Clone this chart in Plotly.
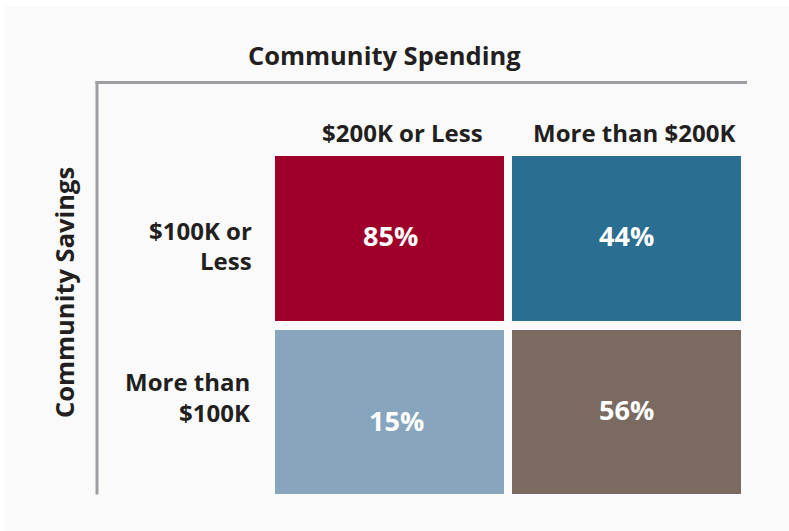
import plotly.graph_objects as go

# ---- data ----
col_labels = ["$200K or Less", "More than $200K"]
row_keys = ["$100K or Less", "More than $100K"]
row_lines = [["$100K or", "Less"], ["More than", "$100K"]]
values = [[85, 44], [15, 56]]          # rows top->bottom, cols left->right
cell_colors = [["#9e0029", "#2a6f91"], ["#87a5bd", "#7b6a61"]]
x_title = "Community Spending"
y_title = "Community Savings"

W, H = 789, 531
L, R, T, B = 271, 44, 152, 32
PW, PH = W - L - R, H - T - B

def px_x(p):
    return (p - L) / PW

def px_y(p):
    return 1 - (p - T) / PH

# discrete colorscale: cell index -> colour
flat_colors = [c for row in cell_colors for c in row]
n = len(flat_colors)
cs = []
for i, c in enumerate(flat_colors):
    cs.append([i / n, c])
    cs.append([(i + 1) / n, c])
z_idx = [[r * 2 + c for c in range(2)] for r in range(2)]

font_family = "'Open Sans', sans-serif"
dark = "#231f20"

fig = go.Figure(go.Heatmap(
    x=col_labels, y=row_keys, z=z_idx,
    zmin=-0.5, zmax=n - 0.5,
    colorscale=cs, showscale=False,
    xgap=8, ygap=9, hoverinfo="skip",
))

# value labels
xshifts = [[1, 0], [7, 0]]
yshifts = [[3, 3], [-8, 3]]
ann = []
for r in range(2):
    for c in range(2):
        ann.append(dict(x=col_labels[c], y=row_keys[r], xref="x", yref="y",
                        text=f"<b>{values[r][c]}%</b>", showarrow=False,
                        xanchor="center", yanchor="middle",
                        xshift=xshifts[r][c], yshift=yshifts[r][c],
                        font=dict(family=font_family, size=27, color="white")))

# column labels
col_shift = [13, 7]
for c in range(2):
    ann.append(dict(x=col_labels[c], y=px_y(132), xref="x", yref="paper",
                    text=f"<b>{col_labels[c]}</b>", showarrow=False,
                    xshift=col_shift[c], xanchor="center", yanchor="middle",
                    font=dict(family=font_family, size=24, color=dark)))

# row labels (one annotation per line for the wider line spacing)
line_y = [[230, 260.5], [381.7, 412.5]]
row_x = [254, 251.5]
for r in range(2):
    for k, line in enumerate(row_lines[r]):
        ann.append(dict(x=px_x(row_x[r]), y=px_y(line_y[r][k]), xref="paper", yref="paper",
                        text=f"<b>{line}</b>", showarrow=False,
                        xanchor="right", yanchor="middle",
                        font=dict(family=font_family, size=24, color=dark)))

# titles
ann.append(dict(x=px_x(384), y=px_y(55), xref="paper", yref="paper",
                text=f"<b>{x_title}</b>", showarrow=False,
                xanchor="center", yanchor="middle",
                font=dict(family=font_family, size=25.5, color=dark)))
ann.append(dict(x=px_x(64), y=px_y(293), xref="paper", yref="paper",
                text=f"<b>{y_title}</b>", showarrow=False, textangle=-90,
                xanchor="center", yanchor="middle",
                font=dict(family=font_family, size=25.5, color=dark)))

shapes = [
    dict(type="rect", xref="paper", yref="paper", x0=px_x(5), x1=px_x(W + 5),
         y0=px_y(6), y1=px_y(H + 5), fillcolor="#fafafa", line=dict(width=0),
         layer="below"),
    dict(type="line", xref="paper", yref="paper", x0=px_x(95.5), x1=px_x(747),
         y0=px_y(82.5), y1=px_y(82.5), line=dict(color="#9c9ea1", width=3)),
    dict(type="line", xref="paper", yref="paper", x0=px_x(97), x1=px_x(97),
         y0=px_y(81), y1=px_y(494.5), line=dict(color="#9c9ea1", width=3)),
]

fig.update_layout(
    width=W, height=H,
    margin=dict(l=L, r=R, t=T, b=B, pad=0),
    paper_bgcolor="white", plot_bgcolor="rgba(0,0,0,0)",
    xaxis=dict(visible=False, fixedrange=True),
    yaxis=dict(visible=False, autorange="reversed", fixedrange=True),
    annotations=ann, shapes=shapes, showlegend=False,
)

fig.write_html("out.html", config={"displayModeBar": False},
               post_script="document.body.style.margin='0px';")
